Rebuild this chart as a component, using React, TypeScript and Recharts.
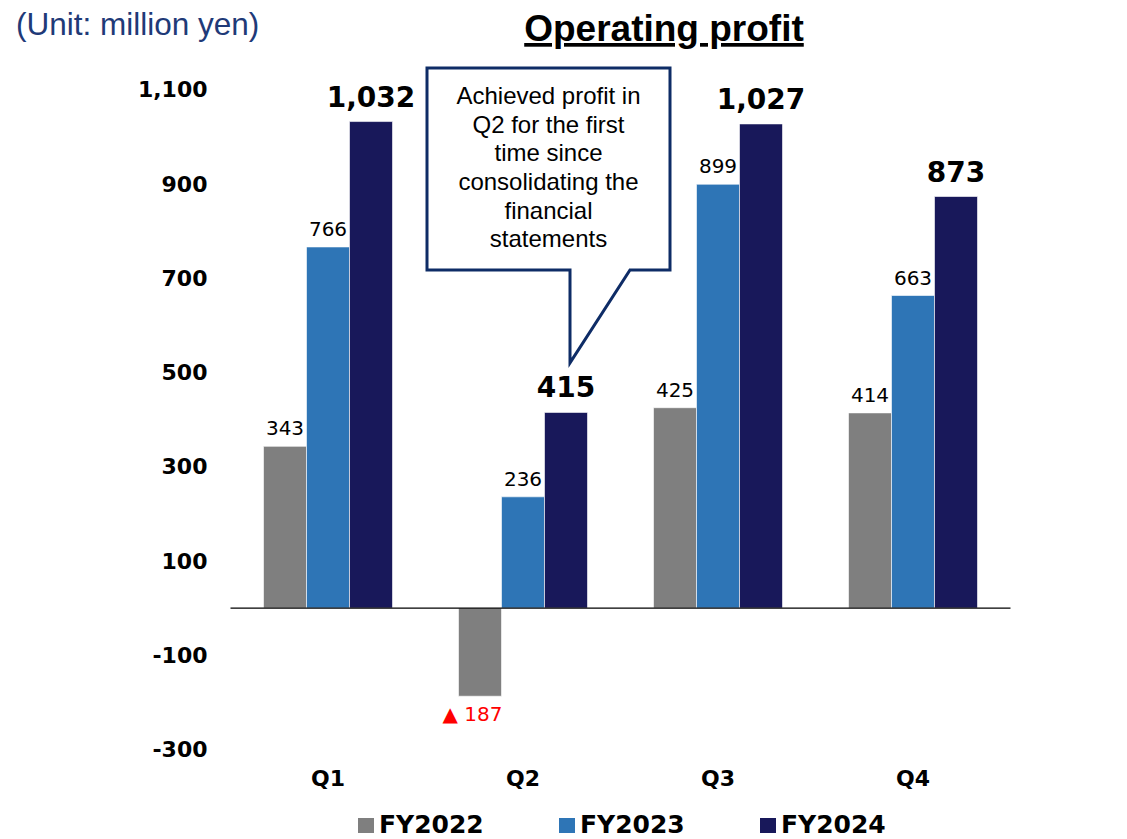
import React from "react";
import {
  Bar,
  BarChart,
  XAxis,
  YAxis,
  Legend,
  LabelList,
  ReferenceLine,
  ReferenceDot,
} from "recharts";

// quarters and operating profit (million yen)
const quarters = ["Q1", "Q2", "Q3", "Q4"];
const fy2022 = [343, -187, 425, 414];
const fy2023 = [766, 236, 899, 663];
const fy2024 = [1032, 415, 1027, 873];
const yTicks = [-300, -100, 100, 300, 500, 700, 900, 1100];
const calloutLines = [
  "Achieved profit in",
  "Q2 for the first",
  "time since",
  "consolidating the",
  "financial",
  "statements",
];

const data = quarters.map((q, i) => ({
  name: q,
  fy2022: fy2022[i],
  fy2023: fy2023[i],
  fy2024: fy2024[i],
}));

const series = [
  { key: "fy2022", label: "FY2022", color: "#7f7f7f" },
  { key: "fy2023", label: "FY2023", color: "#2e75b6" },
  { key: "fy2024", label: "FY2024", color: "#18185a" },
];

const VERDANA = "'DejaVu Sans', Verdana, sans-serif";
const ARIAL = "'Liberation Sans', Arial, sans-serif";

const fmt = (v: number) => v.toLocaleString("en-US");

const SmallLabel = (props: any) => {
  const { x, y, width, height, value } = props;
  const cx = x + width / 2;
  if (value < 0) {
    const bottom = Math.max(y, y + height);
    return (
      <text
        x={x + width + 1}
        y={bottom + 25}
        textAnchor="end"
        fill="#ff0000"
        fontSize={20}
        fontFamily={VERDANA}
      >
        {"▲ " + fmt(Math.abs(value))}
      </text>
    );
  }
  const top = Math.min(y, y + height);
  return (
    <text x={cx} y={top - 11} textAnchor="middle" fill="#000" fontSize={20} fontFamily={VERDANA}>
      {fmt(value)}
    </text>
  );
};

const BigLabel = (props: any) => {
  const { x, y, width, height, value } = props;
  const top = Math.min(y, y + height);
  return (
    <text
      x={x + width / 2}
      y={top - 15}
      textAnchor="middle"
      fill="#000"
      fontSize={28}
      fontWeight="bold"
      fontFamily={VERDANA}
    >
      {fmt(value)}
    </text>
  );
};

// speech bubble pointing down at the Q2 FY2024 bar
const Callout = (props: any) => {
  const tx = props.cx + 47;
  const ty = props.cy;
  const left = tx - 143;
  const right = tx + 100;
  const top = ty - 295;
  const bottom = ty - 93;
  const d = `M${left},${top} L${right},${top} L${right},${bottom} L${tx + 60},${bottom} L${tx},${ty} L${tx},${bottom} L${left},${bottom} Z`;
  return (
    <g>
      <path d={d} fill="#fff" stroke="#0e2c66" strokeWidth={3} strokeLinejoin="miter" />
      {calloutLines.map((line, i) => (
        <text
          key={line}
          x={(left + right) / 2}
          y={top + 36 + i * 28.7}
          textAnchor="middle"
          fill="#000"
          fontSize={24}
          fontFamily={ARIAL}
        >
          {line}
        </text>
      ))}
    </g>
  );
};

const LegendContent = () => (
  <div
    style={{
      height: 44,
      boxSizing: "border-box",
      paddingTop: 19,
      paddingLeft: 358,
      display: "flex",
      alignItems: "flex-start",
    }}
  >
    {series.map((s) => (
      <div key={s.key} style={{ width: 201, height: 22, display: "flex", alignItems: "center" }}>
        <span style={{ width: 16, height: 15, background: s.color, display: "inline-block", marginRight: 5 }} />
        <span style={{ fontFamily: VERDANA, fontWeight: "bold", fontSize: 25, color: "#000", lineHeight: "22px" }}>
          {s.label}
        </span>
      </div>
    ))}
  </div>
);

export default function App() {
  return (
    <div style={{ position: "absolute", left: 0, top: 0, width: 1127, height: 839, background: "#fff" }}>
      <BarChart
        width={1127}
        height={839}
        data={data}
        margin={{ top: 89.5, right: 116.5, bottom: 0, left: 0 }}
        barSize={43}
        barGap={0}
      >
        <XAxis
          dataKey="name"
          axisLine={false}
          tickLine={false}
          tickSize={0}
          tickMargin={21}
          height={45.5}
          tick={{ fill: "#000", fontSize: 22, fontWeight: "bold", fontFamily: VERDANA }}
        />
        <YAxis
          type="number"
          domain={[-300, 1100]}
          ticks={yTicks}
          width={230.5}
          axisLine={false}
          tickLine={false}
          tickSize={0}
          tickMargin={23}
          interval={0}
          tickFormatter={(v) => fmt(v)}
          tick={{ fill: "#000", fontSize: 22, fontWeight: "bold", fontFamily: VERDANA }}
        />
        <Legend
          verticalAlign="bottom"
          content={<LegendContent />}
          wrapperStyle={{ left: 0, width: 1127 }}
        />
        <Bar dataKey="fy2022" fill="#7f7f7f" stroke="#ffffff" strokeWidth={0.6} isAnimationActive={false}>
          <LabelList dataKey="fy2022" content={<SmallLabel />} />
        </Bar>
        <Bar dataKey="fy2023" fill="#2e75b6" stroke="#ffffff" strokeWidth={0.6} isAnimationActive={false}>
          <LabelList dataKey="fy2023" content={<SmallLabel />} />
        </Bar>
        <Bar dataKey="fy2024" fill="#18185a" stroke="#ffffff" strokeWidth={0.6} isAnimationActive={false}>
          <LabelList dataKey="fy2024" content={<BigLabel />} />
        </Bar>
        <ReferenceLine y={0} stroke="#000" strokeWidth={1.2} />
        <ReferenceDot x="Q2" y={520} r={0} ifOverflow="visible" shape={(p: any) => <Callout {...p} />} />
      </BarChart>
      <svg
        width={1127}
        height={60}
        style={{ position: "absolute", left: 0, top: 0, pointerEvents: "none" }}
      >
        <text x={16} y={35} fill="#1f3a78" fontSize={31.5} fontFamily={ARIAL}>
          (Unit: million yen)
        </text>
        <text
          x={664}
          y={41}
          textAnchor="middle"
          fill="#000"
          fontSize={37}
          fontWeight="bold"
          fontFamily={ARIAL}
          style={{ textDecoration: "underline" }}
        >
          Operating profit
        </text>
      </svg>
    </div>
  );
}
